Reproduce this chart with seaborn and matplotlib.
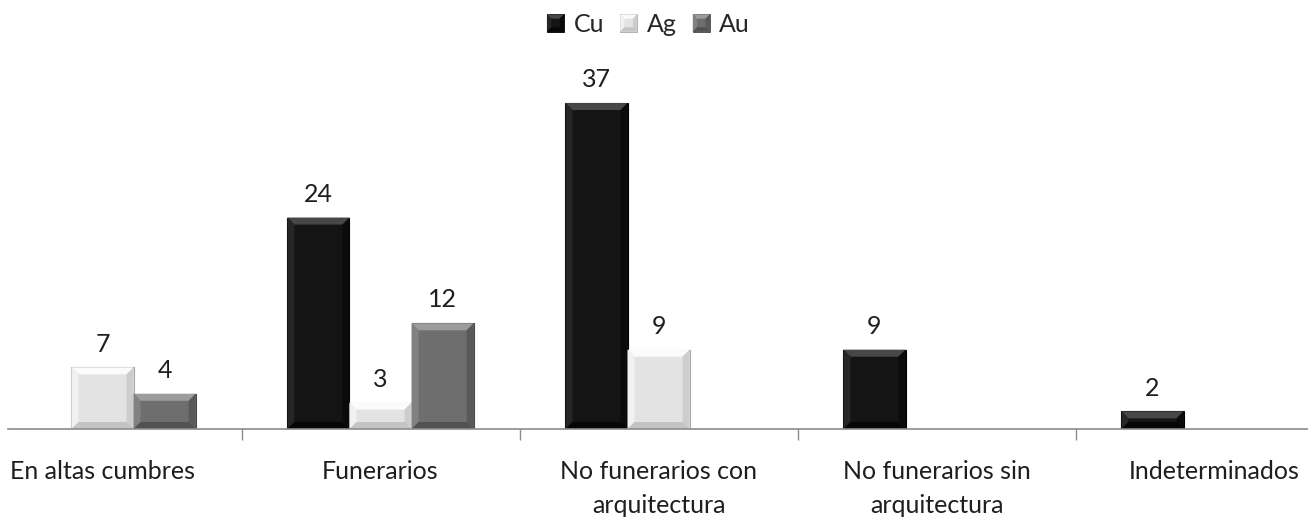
import matplotlib
matplotlib.use("Agg")
import matplotlib.pyplot as plt
import seaborn as sns
import pandas as pd
from matplotlib.patches import Polygon, Rectangle
from matplotlib.legend_handler import HandlerPatch

# Data: counts of metal objects by site type
categories = ["En altas cumbres", "Funerarios", "No funerarios con\narquitectura",
              "No funerarios sin\narquitectura", "Indeterminados"]
metals = ["Cu", "Ag", "Au"]
cu_values = [0, 24, 37, 9, 2]
ag_values = [7, 3, 9, 0, 0]
au_values = [4, 12, 0, 0, 0]

face_colors = {"Cu": "#141414", "Ag": "#e3e3e3", "Au": "#6e6e6e"}
edge_colors = {"Cu": "#000000", "Ag": "#a8a8a8", "Au": "#4a4a4a"}
# bevel shades: top, left, right, bottom
bevel_shades = {
    "Cu": ["#474747", "#262626", "#0b0b0b", "#060606"],
    "Ag": ["#fbfbfb", "#f1f1f1", "#cdcdcd", "#c4c4c4"],
    "Au": ["#9c9c9c", "#818181", "#595959", "#515151"],
}

rows = []
for metal, vals in zip(metals, [cu_values, ag_values, au_values]):
    for cat, v in zip(categories, vals):
        rows.append({"categoria": cat, "metal": metal, "n": v})
df = pd.DataFrame(rows)

sns.set_style("white")
plt.rcParams["font.family"] = ["Lato", "DejaVu Sans"]
FS = 18
TXT = "#1e1e1e"

W, H = 1308, 519
fig = plt.figure(figsize=(W / 100, H / 100), dpi=100)
ax_bottom = (H - 429) / H
ax_top = (H - 76.6) / H
ax = fig.add_axes([8 / W, ax_bottom, 1 - 8 / W, ax_top - ax_bottom])

sns.barplot(data=df, x="categoria", y="n", hue="metal", order=categories,
            hue_order=metals, palette=face_colors, saturation=1, width=0.67,
            ax=ax, linewidth=0.8, errorbar=None)

ax.set_xlim(-0.34, 4.336)
ax.set_ylim(0, 40)


def bevel_polys(px0, py0, px1, py1, bx, b):
    return [
        [(px0, py1), (px1, py1), (px1 - bx, py1 - b), (px0 + bx, py1 - b)],
        [(px0, py0), (px0, py1), (px0 + bx, py1 - b), (px0 + bx, py0 + b)],
        [(px1, py0), (px1, py1), (px1 - bx, py1 - b), (px1 - bx, py0 + b)],
        [(px0, py0), (px1, py0), (px1 - bx, py0 + b), (px0 + bx, py0 + b)],
    ]


# Bevelled bar faces
fig.canvas.draw()
bevel_px = 7.0
inv = ax.transData.inverted()
for metal, cont in zip(metals, ax.containers):
    for patch in cont.patches:
        patch.set_edgecolor(edge_colors[metal])
        x0, y0 = patch.get_x(), patch.get_y()
        w, h = patch.get_width(), patch.get_height()
        if h <= 0:
            continue
        (px0, py0) = ax.transData.transform((x0, y0))
        (px1, py1) = ax.transData.transform((x0 + w, y0 + h))
        b = min(bevel_px, (py1 - py0) / 2.2)
        for pts, shade in zip(bevel_polys(px0, py0, px1, py1, bevel_px, b), bevel_shades[metal]):
            ax.add_patch(Polygon(inv.transform(pts), closed=True, facecolor=shade,
                                 edgecolor="none", zorder=patch.get_zorder() + 0.1))

# Value labels
for cont in ax.containers:
    labels = [f"{int(p.get_height())}" if p.get_height() > 0 else "" for p in cont.patches]
    ax.bar_label(cont, labels=labels, padding=8.5, fontsize=FS, color=TXT)

# Axes styling
for side in ["left", "right", "top"]:
    ax.spines[side].set_visible(False)
ax.spines["bottom"].set_color("#8c8c8c")
ax.spines["bottom"].set_linewidth(1.2)
ax.set_yticks([])
ax.set_xlabel("")
ax.set_ylabel("")
ax.set_xticks(range(len(categories)))
ax.set_xticklabels(categories, fontsize=FS, color=TXT, linespacing=1.6)
ax.set_xticks([0.5, 1.5, 2.5, 3.5], minor=True)
ax.tick_params(axis="x", which="major", length=0, pad=22)
ax.tick_params(axis="x", which="minor", length=8, width=1, color="#8c8c8c",
               direction="out", bottom=True)


class BevelSquare(HandlerPatch):
    def create_artists(self, legend, orig_handle, xdescent, ydescent, width,
                       height, fontsize, trans):
        metal = orig_handle.get_label()
        x0, y0 = -xdescent, -ydescent
        x1, y1 = x0 + width, y0 + height
        base = Rectangle((x0, y0), width, height, facecolor=face_colors[metal],
                         edgecolor=edge_colors[metal], linewidth=0.6, transform=trans)
        arts = [base]
        bx = width * 0.25
        for pts, shade in zip(bevel_polys(x0, y0, x1, y1, bx, bx), bevel_shades[metal]):
            arts.append(Polygon(pts, closed=True, facecolor=shade, edgecolor="none",
                                transform=trans))
        return arts


handles = [Rectangle((0, 0), 1, 1, label=m) for m in metals]
old = ax.get_legend()
if old is not None:
    old.remove()
ax.legend(handles=handles, labels=metals, loc="upper center",
          bbox_to_anchor=((648.5 - 8) / 1300, 1.245), ncol=3, frameon=False, fontsize=FS,
          handlelength=0.68, handleheight=0.68, handletextpad=0.38, columnspacing=0.65,
          handler_map={Rectangle: BevelSquare()})

fig.savefig("out.png", dpi=100)
